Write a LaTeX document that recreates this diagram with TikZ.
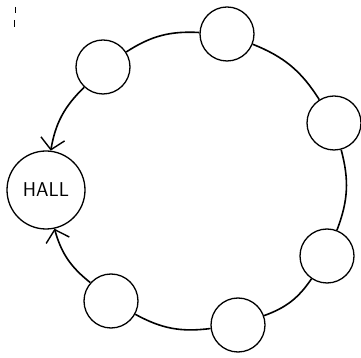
\documentclass[tikz,border=0pt]{standalone}
\usepackage{tikz}
\usetikzlibrary{arrows.meta}

\begin{document}
\begin{tikzpicture}[x=1pt, y=1pt,
  room/.style={draw, circle, line width=1.3pt, minimum size=54pt, inner sep=0pt},
  hall/.style={room, minimum size=78pt, font=\sffamily\fontsize{20}{24}\selectfont},
  link/.style={line width=1.6pt, bend right=18},
  >={Straight Barb[length=11pt, width=24pt, line width=1.4pt]}]
\useasboundingbox (0,0) rectangle (361,358);
\node[hall] (hall) at (46,168) {HALL};
\node[room] (ul)  at (103,291) {};
\node[room] (top) at (227,324) {};
\node[room] (ru)  at (334,235) {};
\node[room] (rl)  at (327,102) {};
\node[room] (bot) at (238,33) {};
\node[room] (ll)  at (111,57) {};
\draw[link]     (top) to (ul);
\draw[link, ->] (ul)  to (hall);
\draw[link, <-] (hall) to (ll);
\draw[link]     (ll)  to (bot);
\draw[link]     (bot) to (rl);
\draw[link]     (rl)  to (ru);
\draw[link]     (ru)  to (top);
% stray mark
\draw[line width=1pt] (15,351) -- (15,345) (14,338) -- (14,331);
\end{tikzpicture}
\end{document}
